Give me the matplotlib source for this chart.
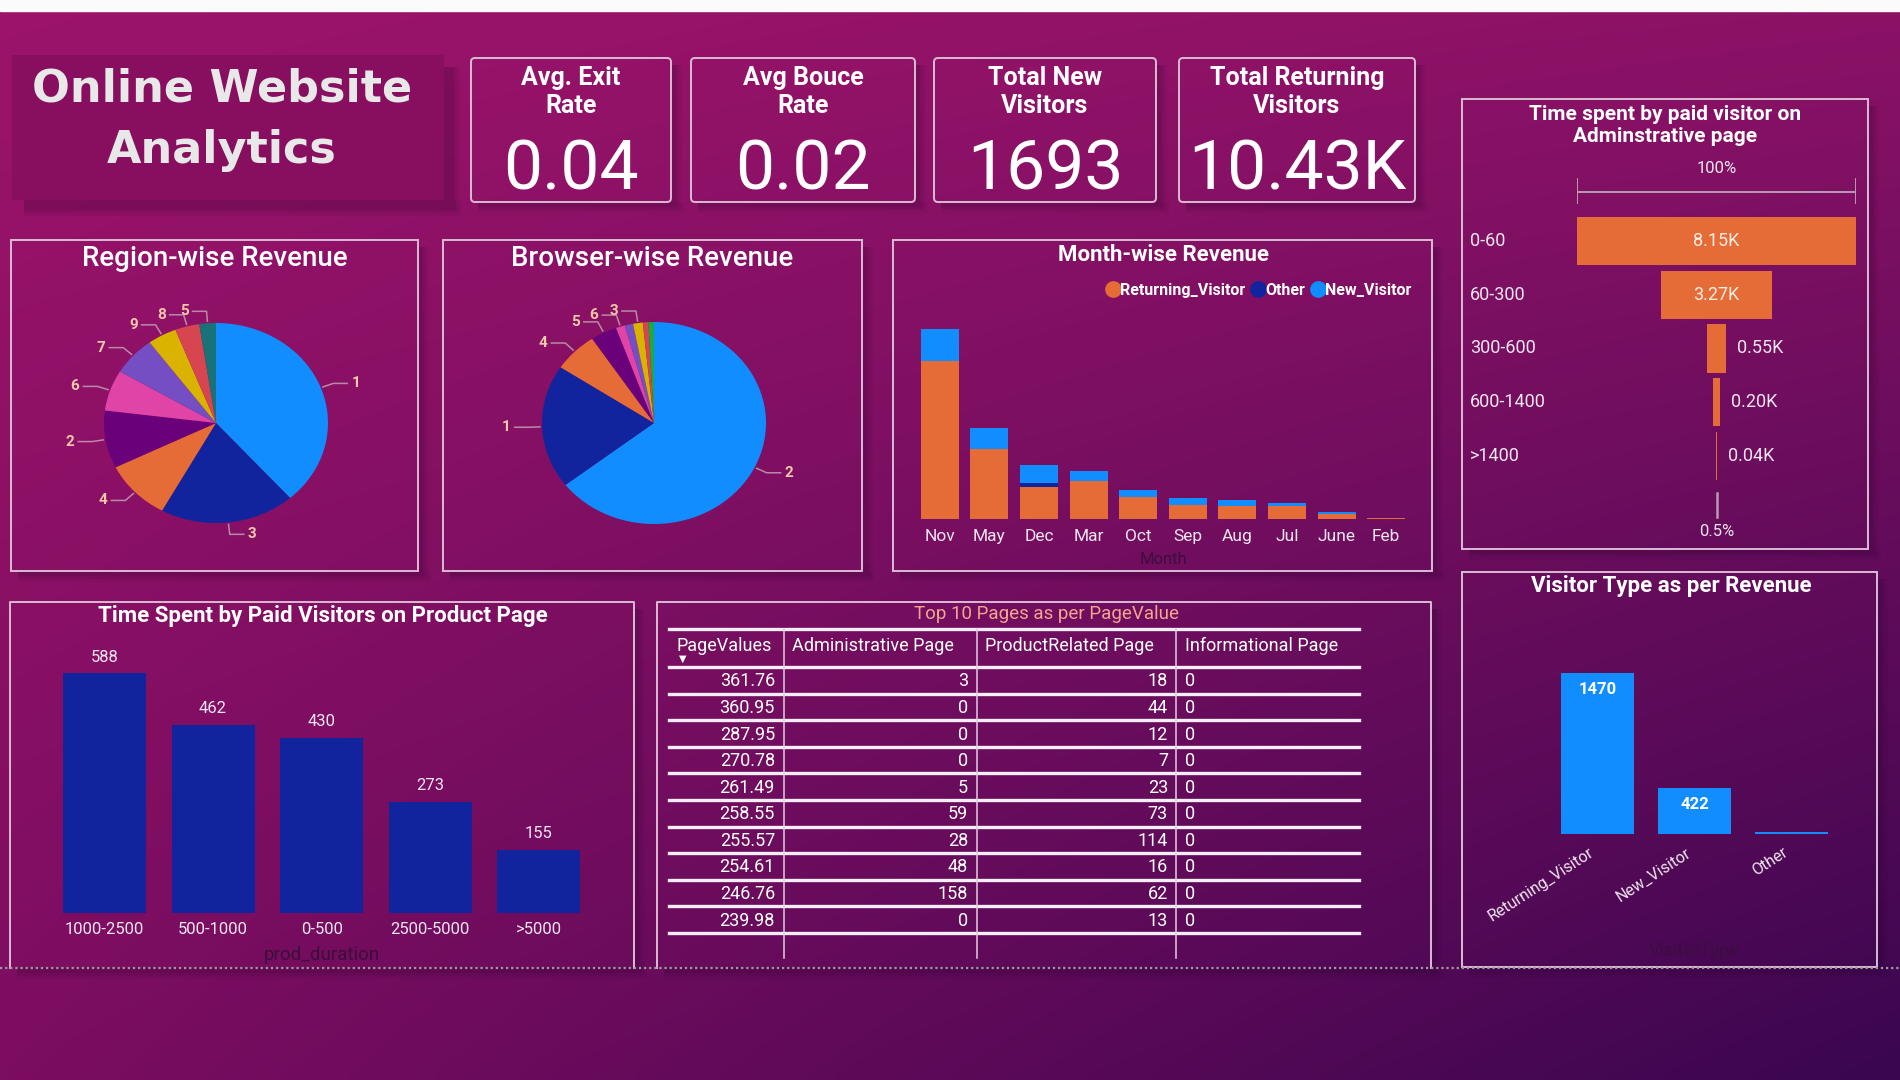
import numpy as np
import matplotlib
matplotlib.use("Agg")
import matplotlib.pyplot as plt
from matplotlib.colors import to_rgb
from matplotlib.lines import Line2D
from matplotlib.patches import FancyBboxPatch, Rectangle
from matplotlib.transforms import ScaledTranslation

W, H = 1900, 1080

# ---- data ----
title_lines = ["Online Website", "Analytics"]
kpi_titles = [["Avg. Exit", "Rate"], ["Avg Bouce", "Rate"], ["Total New", "Visitors"], ["Total Returning", "Visitors"]]
kpi_values = ["0.04", "0.02", "1693", "10.43K"]

region_labels = ["1", "3", "4", "2", "6", "7", "9", "8", "5"]
region_share = [38.5, 19.5, 9.7, 9.3, 6.6, 6.3, 4.2, 3.5, 2.4]

browser_labels = ["2", "1", "4", "5", "6", "10", "3", "8", "13"]
browser_share = [64.5, 19.8, 6.4, 3.8, 1.3, 1.2, 1.4, 0.8, 0.8]
browser_shown = ["2", "1", "4", "5", "6", "3"]

months = ["Nov", "May", "Dec", "Mar", "Oct", "Sep", "Aug", "Jul", "June", "Feb"]
returning = [634, 280, 128, 154, 88, 58, 53, 53, 19, 3]
other = [0, 0, 16, 0, 0, 0, 0, 0, 0, 0]
new = [126, 85, 72, 38, 27, 28, 23, 13, 10, 0]

funnel_bins = ["0-60", "60-300", "300-600", "600-1400", ">1400"]
funnel_vals = [8150, 3270, 550, 200, 40]

prod_bins = ["1000-2500", "500-1000", "0-500", "2500-5000", ">5000"]
prod_vals = [588, 462, 430, 273, 155]

table_cols = ["PageValues", "Administrative Page", "ProductRelated Page", "Informational Page"]
page_values = ["361.76", "360.95", "287.95", "270.78", "261.49", "258.55", "255.57", "254.61", "246.76", "239.98"]
admin_pages = [3, 0, 0, 0, 5, 59, 28, 48, 158, 0]
product_pages = [18, 44, 12, 7, 23, 73, 114, 16, 62, 13]
info_pages = [0, 0, 0, 0, 0, 0, 0, 0, 0, 0]

visitor_types = ["Returning_Visitor", "New_Visitor", "Other"]
visitor_vals = [1470, 422, 16]

# Power BI default palette
BLUE, NAVY, ORANGE, PURPLE = "#118DFF", "#12239E", "#E66C37", "#6B007B"
PINK, VIOLET, YELLOW, RED, TEAL, GREEN = "#E044A7", "#744EC2", "#D9B300", "#D64550", "#197278", "#1AAB40"
TXT = "#f2e6f0"
DARK = "#3b0e3d"
EDGE = "#d9bcd3"

plt.rcParams["font.family"] = ["Roboto", "DejaVu Sans"]

fig = plt.figure(figsize=(W / 100, H / 100), dpi=100)
bg = fig.add_axes([0, 0, 1, 1])
bg.axis("off")

tl, tr, bl, br = [np.array(to_rgb(c)) for c in ("#9c146b", "#8c1266", "#7c0d60", "#3a0650")]
u = np.linspace(0, 1, 190)[None, :, None]
v = np.linspace(0, 1, 108)[:, None, None]
grad = (1 - u) * (1 - v) * tl + u * (1 - v) * tr + (1 - u) * v * bl + u * v * br
bg.imshow(grad, extent=(0, W, H, 0), aspect="auto", interpolation="bilinear", zorder=0)
bg.set_xlim(0, W)
bg.set_ylim(H, 0)
bg.add_patch(Rectangle((0, 0), W, 11, color="#fbfbfb", zorder=1))


def px_axes(x0, y0, x1, y1):
    ax = fig.add_axes([x0 / W, 1 - y1 / H, (x1 - x0) / W, (y1 - y0) / H])
    ax.set_facecolor("none")
    for s in ax.spines.values():
        s.set_visible(False)
    return ax


def shadow(x0, y0, x1, y1, d=7):
    for i, a in enumerate([0.10, 0.08, 0.06]):
        g = i * 3
        bg.add_patch(Rectangle((x0 + d, y1), x1 - x0 + g, d - 2 + g, color="#25002a", alpha=a, lw=0, zorder=1))
        bg.add_patch(Rectangle((x1, y0 + d), d - 2 + g, y1 - y0 - d, color="#25002a", alpha=a, lw=0, zorder=1))


def panel(x0, y0, x1, y1, bottom=True, rounded=False):
    shadow(x0, y0, x1, y1)
    if rounded:
        bg.add_patch(FancyBboxPatch((x0, y0), x1 - x0, y1 - y0, boxstyle="round,pad=0,rounding_size=4",
                                    facecolor="none", edgecolor=EDGE, lw=1.4, zorder=2))
    elif bottom:
        bg.add_patch(Rectangle((x0, y0), x1 - x0, y1 - y0, facecolor="none", edgecolor=EDGE, lw=1.4, zorder=2))
    else:
        bg.plot([x0, x0, x1, x1], [y1, y0, y0, y1], color=EDGE, lw=1.4, zorder=2)


# ---- title + KPI cards ----
shadow(12, 55, 444, 200, d=12)
bg.add_patch(Rectangle((12, 55), 432, 145, color="#880f60", lw=0, zorder=1))
for line, y in zip(title_lines, [89, 150]):
    bg.text(222, y, line, ha="center", va="center", fontsize=32, fontweight="bold",
            family="DejaVu Sans", color="#e8e8e8", zorder=3)

cards = [(471, 671), (691, 915), (934, 1156), (1179, 1415)]
for (x0, x1), ttl, val in zip(cards, kpi_titles, kpi_values):
    panel(x0, 58, x1, 202, rounded=True)
    cx = (x0 + x1) / 2
    for line, y in zip(ttl, [78, 106]):
        bg.text(cx, y, line, ha="center", va="center", fontsize=18, fontweight="bold", color="white", zorder=3)
    bg.text(cx, 171, val, ha="center", va="center", fontsize=50, color="white", zorder=3)

# ---- pies ----
def draw_pie(cx, cy, rx, ry, shares, labels, colors, shown):
    k = 1.7
    ax = px_axes(cx - rx * k, cy - ry * k, cx + rx * k, cy + ry * k)
    wedges, _ = ax.pie(shares, colors=colors, startangle=90, counterclock=False,
                       wedgeprops=dict(linewidth=0))
    ax.set_aspect("auto")
    ax.set_xlim(-k, k)
    ax.set_ylim(-k, k)
    ax.axis("off")
    hx = 14 / rx
    for w, lab in zip(wedges, labels):
        if lab not in shown:
            continue
        mid = np.deg2rad((w.theta1 + w.theta2) / 2)
        x0, y0 = np.cos(mid), np.sin(mid)
        side = 1 if x0 >= 0 else -1
        x1, y1 = 1.12 * x0, 1.12 * y0
        x2 = x1 + side * hx
        ax.plot([x0 * 1.02, x1, x2], [y0 * 1.02, y1, y1], color="#b98aa6", lw=1.1)
        ax.text(x2 + side * 4 / rx, y1, lab, ha="left" if side > 0 else "right", va="center",
                fontsize=11, fontweight="bold", color="#f6c9a8")


panel(11, 240, 418, 571)
bg.text(214.5, 259, "Region-wise Revenue", ha="center", va="center", fontsize=20, fontweight="medium", color="white", zorder=3)
draw_pie(216, 423, 112, 100, region_share, region_labels,
         [BLUE, NAVY, ORANGE, PURPLE, PINK, VIOLET, YELLOW, RED, TEAL], region_labels)

panel(443, 240, 862, 571)
bg.text(652.5, 259, "Browser-wise Revenue", ha="center", va="center", fontsize=20, fontweight="medium", color="white", zorder=3)
draw_pie(654, 423, 112, 101, browser_share, browser_labels,
         [BLUE, NAVY, ORANGE, PURPLE, PINK, VIOLET, YELLOW, RED, GREEN], browser_shown)

# ---- month-wise stacked bars ----
panel(893, 240, 1432, 571)
bg.text(1164, 255, "Month-wise Revenue", ha="center", va="center", fontsize=16, fontweight="bold", color="white", zorder=3)
ax = px_axes(915, 319, 1411, 519)
x = np.arange(len(months))
ax.bar(x, returning, width=0.77, color=ORANGE)
ax.bar(x, other, width=0.77, bottom=returning, color=NAVY)
ax.bar(x, new, width=0.77, bottom=np.add(returning, other), color=BLUE)
ax.set_xlim(-0.5, len(months) - 0.5)
ax.set_ylim(0, 800)
ax.set_yticks([])
ax.set_xticks(x, months)
ax.tick_params(axis="x", length=0, pad=7, labelsize=12.5, labelcolor=TXT)
ax.set_xlabel("Month", color=DARK, fontsize=12)
ax.xaxis.set_label_coords(0.5, -0.165)
handles = [Line2D([], [], marker="o", ls="", ms=11, color=c) for c in (ORANGE, NAVY, BLUE)]
fig.legend(handles, ["Returning_Visitor", "Other", "New_Visitor"], loc="center right",
           bbox_to_anchor=(1426 / W, 1 - 290 / H), ncol=3, frameon=False, handletextpad=0.05,
           columnspacing=0.4, handlelength=0.8, prop=dict(size=11.5, weight="bold"), labelcolor="white")

# ---- funnel ----
panel(1462, 99, 1868, 549)
bg.text(1665, 115, "Time spent by paid visitor on", ha="center", va="center", fontsize=15, fontweight="bold", color="white", zorder=3)
bg.text(1665, 137, "Adminstrative page", ha="center", va="center", fontsize=15, fontweight="bold", color="white", zorder=3)
ax = px_axes(1577, 160, 1856, 540)
fmax = max(funnel_vals)
for i, (lab, val) in enumerate(zip(funnel_bins, funnel_vals)):
    ax.barh(i, val, left=-val / 2, height=0.9, color=ORANGE)
    txt = f"{val / 1000:.2f}K"
    if val > fmax * 0.3:
        ax.text(0, i, txt, ha="center", va="center", fontsize=13, color="#fbeee6")
    else:
        ax.annotate(txt, (val / 2, i), xytext=(8, 0), textcoords="offset points",
                    ha="left", va="center", fontsize=13, color=TXT)
    ax.text(-0.3835, i, lab, transform=ax.get_yaxis_transform(), ha="left", va="center", fontsize=13, color=TXT)
ax.set_xlim(-fmax / 2, fmax / 2)
ax.set_ylim(5.565, -1.507)
ax.set_xticks([])
ax.set_yticks([])
bc = "#b89ab4"
ax.plot([-fmax / 2, fmax / 2], [-0.91, -0.91], color=bc, lw=1.4)
ax.plot([-fmax / 2, -fmax / 2], [-1.15, -0.71], color=bc, lw=1.4)
ax.plot([fmax / 2, fmax / 2], [-1.15, -0.71], color=bc, lw=1.4)
ax.text(0, -1.34, f"{funnel_vals[0] / fmax:.0%}", ha="center", va="center", fontsize=12, color=TXT)
ax.plot([0, 0], [4.69, 5.13], color=bc, lw=1.8)
ax.text(0, 5.41, f"{funnel_vals[-1] / fmax * 100:.1f}%", ha="center", va="center", fontsize=12, color=TXT)

# ---- product page bars ----
panel(10, 602, 634, 968, bottom=False)
bg.text(323, 616, "Time Spent by Paid Visitors on Product Page", ha="center", va="center",
        fontsize=16, fontweight="bold", color="white", zorder=3)
ax = px_axes(50.2, 648, 593.2, 912.7)
x = np.arange(len(prod_bins))
bars = ax.bar(x, prod_vals, width=0.764, color=NAVY)
for b, val in zip(bars, prod_vals):
    ax.annotate(str(val), (b.get_x() + b.get_width() / 2, val), xytext=(0, 6), textcoords="offset points",
                ha="center", va="bottom", fontsize=12, color=TXT)
ax.set_xlim(-0.5, len(prod_bins) - 0.5)
ax.set_ylim(0, 650)
ax.set_yticks([])
ax.set_xticks(x, prod_bins)
ax.tick_params(axis="x", length=0, pad=7, labelsize=12, labelcolor=TXT)
ax.set_xlabel("prod_duration", color=DARK, fontsize=13.5)
ax.xaxis.set_label_coords(0.5, -0.125)

# ---- table ----
panel(657, 602, 1431, 968, bottom=False)
bg.text(1046, 614, "Top 10 Pages as per PageValue", ha="center", va="center", fontsize=13.5, color="#f2a590", zorder=3)
tx0, tx1 = 669, 1359
seps = [783.5, 976.5, 1176]
row_h = 26.6
lines_y = [629, 667] + [667 + row_h * (i + 1) for i in range(len(page_values))]
for y in lines_y:
    bg.plot([tx0, tx1], [y, y], color="#f6eef6", lw=2.4, zorder=3)
for xs in seps:
    bg.plot([xs, xs], [629, 958], color="#e4cce2", lw=1.1, zorder=3)
for name, xh in zip(table_cols, [676, 792.5, 985, 1185]):
    bg.text(xh, 646, name, ha="left", va="center", fontsize=13, color="white", zorder=4)
bg.text(683, 659, "\u25bc", ha="center", va="center", fontsize=7, family="DejaVu Sans", color="white", zorder=4)
for i, (pv, a, p, inf) in enumerate(zip(page_values, admin_pages, product_pages, info_pages)):
    y = 668 + row_h * (i + 0.5)
    bg.text(775, y, pv, ha="right", va="center", fontsize=13, color="white", zorder=4)
    bg.text(968, y, str(a), ha="right", va="center", fontsize=13, color="white", zorder=4)
    bg.text(1168, y, str(p), ha="right", va="center", fontsize=13, color="white", zorder=4)
    bg.text(1185, y, str(inf), ha="left", va="center", fontsize=13, color="white", zorder=4)

# ---- visitor type bars ----
panel(1462, 572, 1877, 967)
bg.text(1671, 586, "Visitor Type as per Revenue", ha="center", va="center", fontsize=16, fontweight="bold", color="white", zorder=3)
ax = px_axes(1549, 647.5, 1840, 834)
x = np.arange(len(visitor_types))
bars = ax.bar(x, visitor_vals, width=0.75, color=BLUE)
for b, val in zip(bars, visitor_vals):
    if val > 100:
        ax.annotate(str(val), (b.get_x() + b.get_width() / 2, val), xytext=(0, -7), textcoords="offset points",
                    ha="center", va="top", fontsize=12, fontweight="bold", color="white")
ax.set_xlim(-0.5, len(visitor_types) - 0.5)
ax.set_ylim(0, 1700)
ax.set_yticks([])
ax.set_xticks(x, visitor_types, rotation=33, ha="right", rotation_mode="anchor")
ax.tick_params(axis="x", length=0, pad=8, labelsize=11.5, labelcolor=TXT)
shift = ScaledTranslation(-0.09, 0, fig.dpi_scale_trans)
for t in ax.get_xticklabels():
    t.set_transform(t.get_transform() + shift)
ax.set_xlabel("VisitorType", color=DARK, fontsize=13)
ax.xaxis.set_label_coords(0.5, -0.58)

# dotted page break
bg.plot([0, W], [968, 968], color="#9c9c9c", lw=1.6, ls=(0, (1, 1.3)), zorder=5)

fig.savefig("out.png", dpi=100)
